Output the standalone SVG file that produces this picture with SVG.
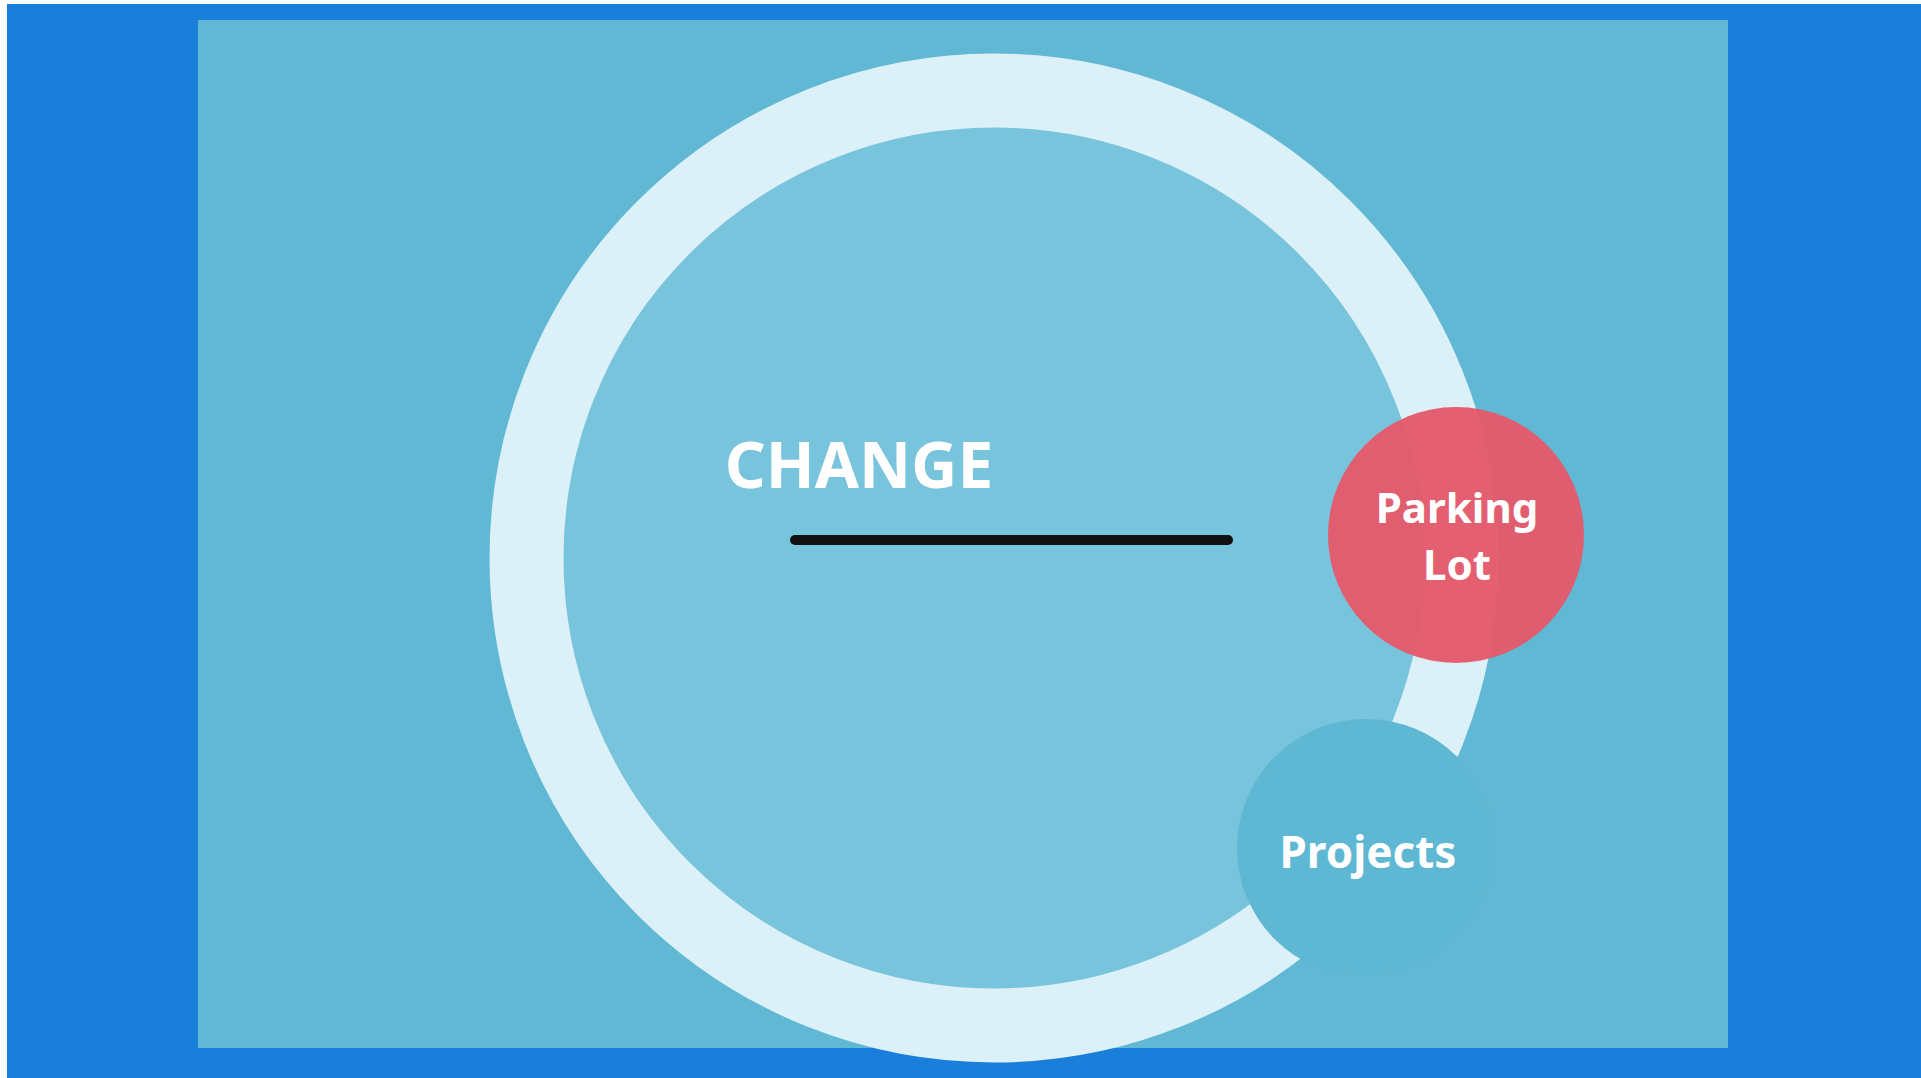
<svg xmlns="http://www.w3.org/2000/svg" width="1921" height="1078" viewBox="0 0 1921 1078">
  <style>
    .lbl { font-family: "Noto Sans", "Open Sans", "Liberation Sans", sans-serif; font-weight: 700; fill: #ffffff; text-anchor: middle; }
  </style>
  <rect x="0" y="0" width="1921" height="1078" fill="#ffffff"/>
  <rect x="7" y="4" width="1914" height="1074" fill="#1a7edb"/>
  <rect x="198" y="20" width="1530" height="1028" fill="#60b8d4"/>
  <g id="change">
    <circle cx="994" cy="558" r="431" fill="#78c4dc"/>
    <circle cx="994" cy="558" r="467.5" fill="none" stroke="#dcf0f8" stroke-width="74"/>
    <text class="lbl" x="859" y="488" font-size="64">CHANGE</text>
    <line x1="795" y1="540" x2="1228" y2="540" stroke="#111111" stroke-width="10" stroke-linecap="round"/>
  </g>
  <g id="parking-lot">
    <circle cx="1456" cy="535" r="128" fill="#e45a6a" fill-opacity="0.96"/>
    <text class="lbl" x="1457" y="523" font-size="42">Parking</text>
    <text class="lbl" x="1457" y="580" font-size="42">Lot</text>
  </g>
  <g id="projects">
    <circle cx="1366" cy="848" r="129" fill="#5eb7d3"/>
    <text class="lbl" x="1368" y="868" font-size="44">Projects</text>
  </g>
  <g id="connectors"/>
</svg>
